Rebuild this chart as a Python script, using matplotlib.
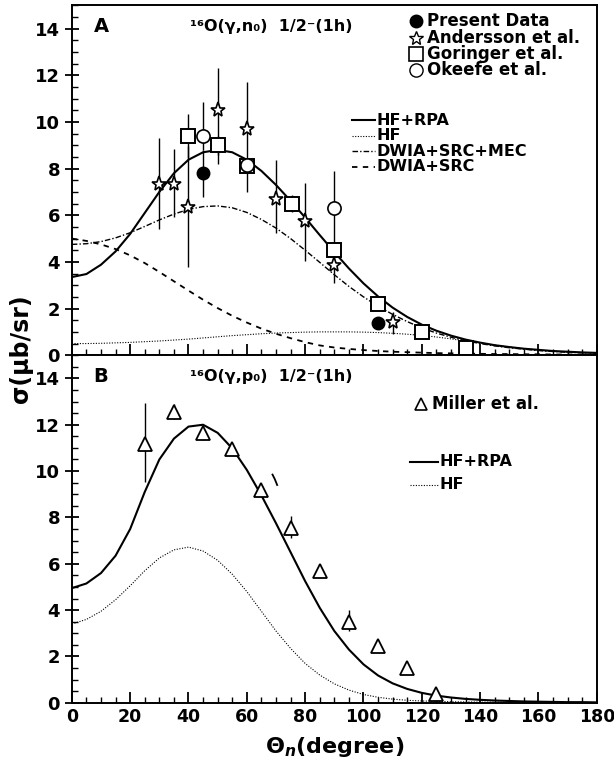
import matplotlib
matplotlib.use("Agg")
import matplotlib.pyplot as plt
from matplotlib.ticker import MultipleLocator

plt.rcParams['font.family'] = 'DejaVu Sans'
plt.rcParams['font.weight'] = 'bold'

# angles (deg) at which the calculated curves were read, both panels
theta = list(range(0, 185, 5))

# ---------------- panel A : 16O(g,n0) ----------------
hf_rpa_a = [3.35, 3.48, 3.88, 4.45, 5.2, 6.1, 7.0, 7.8, 8.38, 8.7, 8.8, 8.7, 8.38, 7.9,
            7.3, 6.62, 5.9, 5.15, 4.42, 3.72, 3.08, 2.52, 2.04, 1.64, 1.31, 1.05, 0.84,
            0.67, 0.54, 0.43, 0.35, 0.28, 0.23, 0.18, 0.15, 0.12, 0.1]
hf_a = [0.5, 0.5, 0.51, 0.53, 0.55, 0.58, 0.61, 0.65, 0.69, 0.74, 0.79, 0.84, 0.88, 0.92,
        0.95, 0.97, 0.99, 1.0, 1.0, 1.0, 0.99, 0.97, 0.94, 0.9, 0.85, 0.78, 0.7, 0.61,
        0.52, 0.43, 0.35, 0.28, 0.22, 0.17, 0.13, 0.1, 0.08]
dwia_mec_a = [4.75, 4.78, 4.87, 5.03, 5.25, 5.52, 5.8, 6.05, 6.25, 6.37, 6.4, 6.32, 6.12,
              5.82, 5.45, 5.0, 4.5, 3.98, 3.45, 2.95, 2.5, 2.1, 1.75, 1.44, 1.17, 0.95,
              0.77, 0.62, 0.5, 0.4, 0.32, 0.26, 0.2, 0.16, 0.13, 0.11, 0.09]
dwia_a = [5.0, 4.9, 4.75, 4.55, 4.28, 3.95, 3.57, 3.17, 2.77, 2.38, 2.02, 1.69, 1.4, 1.14,
          0.92, 0.73, 0.56, 0.42, 0.33, 0.27, 0.22, 0.18, 0.15, 0.13, 0.11, 0.09, 0.08,
          0.07, 0.06, 0.05, 0.05, 0.04, 0.04, 0.03, 0.03, 0.03, 0.02]

present_x = [45, 105]
present_y = [7.8, 1.4]
present_lo = [1.0, 0.0]
present_hi = [1.0, 0.0]

andersson_x = [30, 35, 40, 50, 60, 70, 80, 90, 110]
andersson_y = [7.32, 7.32, 6.35, 10.5, 9.7, 6.7, 5.75, 3.85, 1.42]
andersson_lo = [1.9, 1.4, 2.55, 2.3, 2.7, 1.45, 1.7, 0.75, 0.5]
andersson_hi = [2.0, 1.5, 2.6, 1.8, 2.0, 1.65, 1.65, 0.75, 0.45]

goringer_x = [40, 50, 60, 75.5, 90, 105, 120, 135]
goringer_y = [9.4, 9.0, 8.1, 6.5, 4.5, 2.2, 0.98, 0.33]
goringer_err = [0.95, 0.4, 0.3, 0.35, 0.25, 0.15, 0.1, 0.05]

okeefe_x = [45, 60, 90]
okeefe_y = [9.4, 8.15, 6.3]
okeefe_lo = [0.6, 0.3, 1.7]
okeefe_hi = [1.45, 0.3, 1.6]

# ---------------- panel B : 16O(g,p0) ----------------
hf_rpa_b = [4.95, 5.15, 5.6, 6.35, 7.5, 9.1, 10.5, 11.4, 11.92, 12.0, 11.65, 10.98, 10.05,
            8.95, 7.75, 6.5, 5.25, 4.1, 3.1, 2.3, 1.66, 1.18, 0.84, 0.6, 0.43, 0.31, 0.23,
            0.17, 0.13, 0.1, 0.08, 0.06, 0.05, 0.04, 0.03, 0.03, 0.02]
hf_b = [3.4, 3.6, 3.95, 4.45, 5.05, 5.7, 6.25, 6.6, 6.72, 6.55, 6.15, 5.55, 4.8, 3.95,
        3.1, 2.35, 1.7, 1.2, 0.82, 0.55, 0.36, 0.24, 0.16, 0.11, 0.08, 0.06, 0.05, 0.04,
        0.03, 0.03, 0.02, 0.02, 0.02, 0.01, 0.01, 0.01, 0.01]

miller_x = [25, 35, 45, 55, 65, 75, 85, 95, 105, 115, 125]
miller_y = [11.15, 12.55, 11.65, 10.95, 9.2, 7.55, 5.7, 3.5, 2.45, 1.5, 0.4]
miller_lo = [1.6, 0.3, 0.3, 0.25, 0.2, 0.45, 0.2, 0.4, 0.15, 0.1, 0.1]
miller_hi = [1.8, 0.35, 0.2, 0.25, 0.2, 0.5, 0.2, 0.5, 0.15, 0.1, 0.1]

# small stray arc printed next to the 65 deg point
arc_x = [68.8, 69.6, 70.4]
arc_y = [9.85, 9.65, 9.4]

# line styles
s_solid = dict(color='black', lw=1.5, ls='-')
s_hf = dict(color='black', lw=0.8, ls=(0, (1, 1.4)))
s_mec = dict(color='black', lw=1.0, ls=(0, (4, 1.5, 1, 1.5)))
s_dwia = dict(color='black', lw=1.3, ls=(0, (3, 3)))

fig = plt.figure(figsize=(6.14, 7.59), dpi=100)
axA = fig.add_axes([0.117, 0.532, 0.855, 0.461])
axB = fig.add_axes([0.117, 0.074, 0.855, 0.458])

for ax in (axA, axB):
    ax.set_xlim(0, 180)
    ax.set_ylim(0, 15)
    ax.xaxis.set_major_locator(MultipleLocator(20))
    ax.xaxis.set_minor_locator(MultipleLocator(5))
    ax.yaxis.set_major_locator(MultipleLocator(2))
    ax.yaxis.set_minor_locator(MultipleLocator(0.5))
    ax.tick_params(axis='y', which='major', direction='inout', length=10, width=1.3,
                   labelsize=13, right=False)
    ax.tick_params(axis='y', which='minor', direction='in', length=4, width=1.0, right=False)
    ax.tick_params(axis='x', which='major', direction='in', length=8, width=1.3,
                   labelsize=12.5, top=False)
    ax.tick_params(axis='x', which='minor', direction='in', length=4, width=1.0, top=False)
    for sp in ax.spines.values():
        sp.set_linewidth(1.4)
axA.tick_params(axis='x', labelbottom=False)

# ---- panel A curves & data
axA.plot(theta, hf_rpa_a, **s_solid)
axA.plot(theta, hf_a, **s_hf)
axA.plot(theta, dwia_mec_a, **s_mec)
axA.plot(theta, dwia_a, **s_dwia)

eb = dict(fmt='none', ecolor='black', elinewidth=1.0, capsize=0)
axA.errorbar(present_x, present_y, yerr=[present_lo, present_hi], **eb)
axA.errorbar(andersson_x, andersson_y, yerr=[andersson_lo, andersson_hi], **eb)
axA.errorbar(goringer_x, goringer_y, yerr=goringer_err, **eb)
axA.errorbar(okeefe_x, okeefe_y, yerr=[okeefe_lo, okeefe_hi], **eb)

axA.plot(goringer_x, goringer_y, 's', ms=9.5, mfc='white', mec='black', mew=1.4)
axA.plot(okeefe_x, okeefe_y, 'o', ms=9.5, mfc='white', mec='black', mew=1.2)
axA.plot(andersson_x, andersson_y, '*', ms=11, mfc='white', mec='black', mew=1.2)
axA.plot(present_x, present_y, 'o', ms=9, mfc='black', mec='black')

axA.text(10, 14.1, 'A', fontsize=14, fontweight='bold', ha='center', va='center')
axA.text(40.5, 14.1, '¹⁶O(γ,n₀)  1/2⁻(1h)', fontsize=11.5, fontweight='bold', va='center')

# marker legend A
mk_names = ['Present Data', 'Andersson et al.', 'Goringer et al.', 'Okeefe et al.']
mk_styles = [dict(marker='o', ms=9, mfc='black', mec='black'),
             dict(marker='*', ms=10, mfc='white', mec='black', mew=1.0),
             dict(marker='s', ms=9.5, mfc='white', mec='black', mew=1.2),
             dict(marker='o', ms=9.5, mfc='white', mec='black', mew=1.0)]
for i, (nm, st) in enumerate(zip(mk_names, mk_styles)):
    yy = 0.955 - i * 0.047
    axA.plot([0.656], [yy], transform=axA.transAxes, ls='none', **st)
    axA.text(0.677, yy, nm, transform=axA.transAxes, fontsize=12, fontweight='bold',
             va='center')

ln_names = ['HF+RPA', 'HF', 'DWIA+SRC+MEC', 'DWIA+SRC']
ln_styles = [s_solid, s_hf, s_mec, s_dwia]
for i, (nm, st) in enumerate(zip(ln_names, ln_styles)):
    yy = 0.671 - i * 0.044
    axA.plot([0.533, 0.578], [yy, yy], transform=axA.transAxes, **st)
    axA.text(0.58, yy, nm, transform=axA.transAxes, fontsize=11.5, fontweight='bold',
             va='center')

# ---- panel B curves & data
axB.plot(theta, hf_rpa_b, **s_solid)
axB.plot(theta, hf_b, **s_hf)
axB.plot(arc_x, arc_y, color='black', lw=1.3)
axB.errorbar(miller_x, miller_y, yerr=[miller_lo, miller_hi], **eb)
axB.plot(miller_x, miller_y, '^', ms=10, mfc='white', mec='black', mew=1.3)

axB.text(10, 14.1, 'B', fontsize=14, fontweight='bold', ha='center', va='center')
axB.text(40.5, 14.1, '¹⁶O(γ,p₀)  1/2⁻(1h)', fontsize=11.5, fontweight='bold', va='center')

axB.plot([0.666], [0.86], transform=axB.transAxes, ls='none', marker='^', ms=9,
         mfc='white', mec='black', mew=1.2)
axB.text(0.686, 0.86, 'Miller et al.', transform=axB.transAxes, fontsize=12,
         fontweight='bold', va='center')
for i, (nm, st) in enumerate(zip(ln_names[:2], ln_styles[:2])):
    yy = 0.693 - i * 0.066
    axB.plot([0.645, 0.697], [yy, yy], transform=axB.transAxes, **st)
    axB.text(0.7, yy, nm, transform=axB.transAxes, fontsize=11.5, fontweight='bold',
             va='center')

axB.set_xlabel('Θ$_{n}$(degree)', fontsize=16, fontweight='bold', labelpad=7)
fig.text(0.035, 0.54, 'σ(μb/sr)', rotation=90, fontsize=17, fontweight='bold',
         ha='center', va='center')

fig.savefig('out.png', dpi=100)
